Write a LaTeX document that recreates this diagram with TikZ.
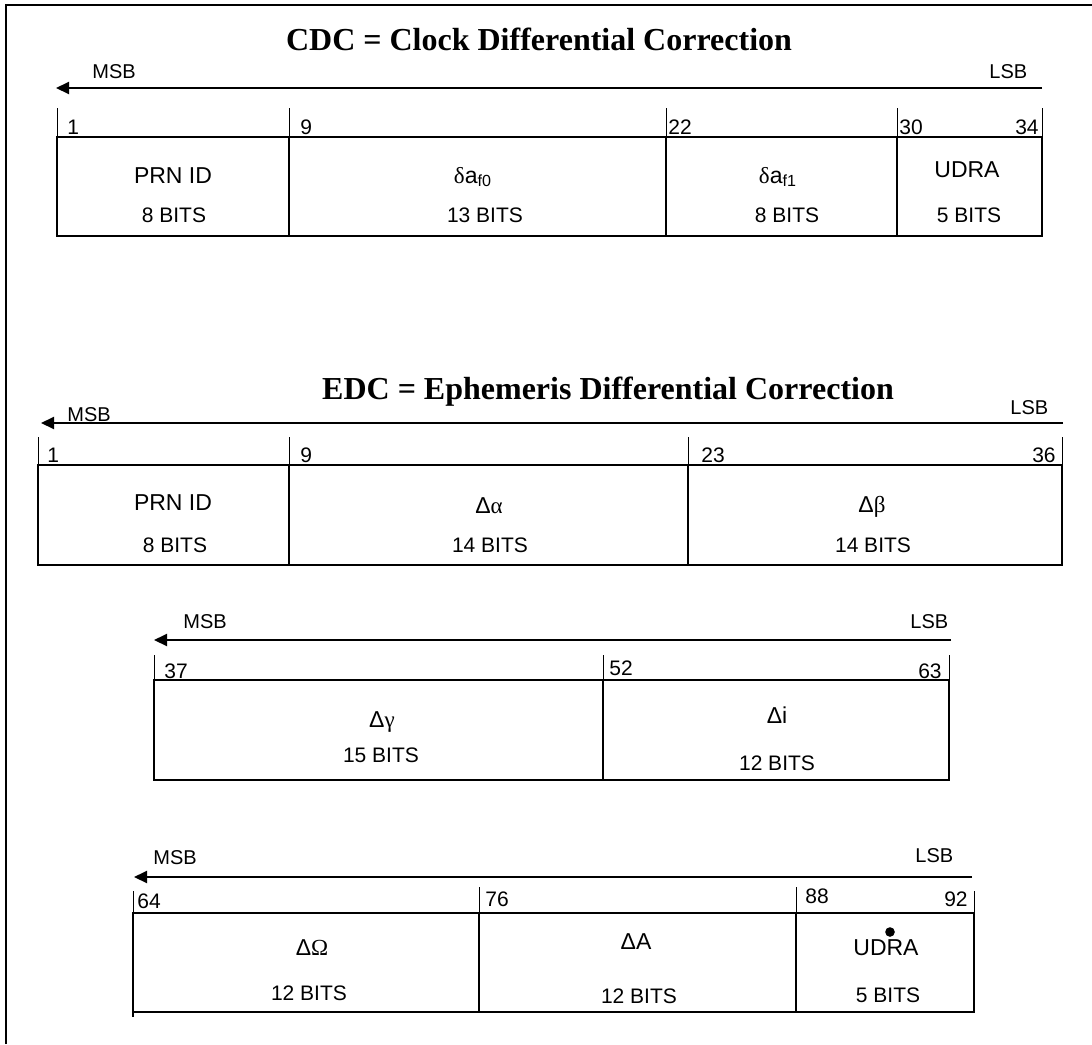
\documentclass[tikz,border=0pt]{standalone}
\usepackage{fontspec}
\setmainfont{Liberation Sans}
\newfontfamily\serifgr{Liberation Serif}
\usetikzlibrary{arrows.meta, positioning}

\newcommand{\gr}[1]{{\serifgr #1}}

\tikzset{
  msbarrow/.style={line width=1pt, -{Triangle[length=6.5pt,width=6pt]}},
  tickline/.style={line width=0.5pt},
  fieldbox/.style={line width=0.8pt},
  heavybox/.style={line width=1.3pt},
  title/.style={font=\serifgr\bfseries\fontsize{16}{18}\selectfont, anchor=base, inner sep=0pt},
  side/.style={font=\fontsize{10}{12}\selectfont, anchor=base west, inner sep=0pt},
  bitno/.style={font=\fontsize{10.5}{12}\selectfont, anchor=base west, inner sep=0pt},
  bitend/.style={bitno, anchor=base east},
  fname/.style={font=\fontsize{11.5}{13}\selectfont, anchor=base, inner sep=0pt},
  nbits/.style={font=\fontsize{10.5}{12}\selectfont, anchor=base, inner sep=0pt},
}

\begin{document}
\begin{tikzpicture}[x=0.5pt, y=-0.5pt]
    \useasboundingbox (0,0) rectangle (1092,1044);
    \draw[line width=0.8pt] (6,1044) -- (6,5) -- (1092,5);

    % CDC word
    \node[title] (cdctitle) at (539,50) {CDC = Clock Differential Correction};
    \node[side] (cdcmsb) at (92,78) {MSB};
    \node[side] (cdclsb) at (989,78) {LSB};
    \coordinate (cdcleft) at (56,88);
    \coordinate (cdcright) at (1042,88);
    \draw[msbarrow] (cdcright) -- (cdcleft);

    \draw[tickline] (57,108) -- (57,137);
    \draw[tickline] (289,108) -- (289,137);
    \draw[tickline] (666,108) -- (666,137);
    \draw[tickline] (897,108) -- (897,137);
    \draw[tickline] (1042,108) -- (1042,137);
    \draw[heavybox] (57,137) rectangle (1042,236);
    \draw[heavybox] (289,137) -- (289,236);
    \draw[heavybox] (666,137) -- (666,236);
    \draw[heavybox] (897,137) -- (897,236);

    \node[bitno] (cdcb1) at (67,134) {1};
    \node[bitno] (cdcb9) at (300,134) {9};
    \node[bitno] (cdcb22) at (668,134) {22};
    \node[bitno] (cdcb30) at (899,134) {30};
    \node[bitend] (cdcb34) at (1039,134) {34};

    \node[fname] (cdcprn) at (173,183) {PRN ID};
    \node[nbits] (cdcprnbits) at (174,222) {8 BITS};
    \node[fname] (cdcaf0) at (473,183) {\gr{δ}a\textsubscript{f0}};
    \node[nbits] (cdcaf0bits) at (485,222) {13 BITS};
    \node[fname] (cdcaf1) at (778,183) {\gr{δ}a\textsubscript{f1}};
    \node[nbits] (cdcaf1bits) at (787,222) {8 BITS};
    \node[fname] (cdcudra) at (967,177) {UDRA};
    \node[nbits] (cdcudrabits) at (969,222) {5 BITS};

    % EDC word, first part
    \node[title] (edctitle) at (608,399) {EDC = Ephemeris Differential Correction};
    \node[side] (edcmsb) at (67,421) {MSB};
    \node[side] (edclsb) at (1010,414) {LSB};
    \coordinate (edcleft) at (41,423);
    \coordinate (edcright) at (1063,423);
    \draw[msbarrow] (edcright) -- (edcleft);

    \draw[tickline] (38,437) -- (38,465);
    \draw[tickline] (289,437) -- (289,465);
    \draw[tickline] (688,437) -- (688,465);
    \draw[tickline] (1062,437) -- (1062,465);
    \draw[fieldbox] (38,465) rectangle (1062,565);
    \draw[fieldbox] (289,465) -- (289,565);
    \draw[fieldbox] (688,465) -- (688,565);

    \node[bitno] (edcb1) at (47,462) {1};
    \node[bitno] (edcb9) at (300,462) {9};
    \node[bitno] (edcb23) at (701,462) {23};
    \node[bitend] (edcb36) at (1056,462) {36};

    \node[fname] (edcprn) at (173,510) {PRN ID};
    \node[nbits] (edcprnbits) at (175,552) {8 BITS};
    \node[fname] (edcalpha) at (489,513) {Δ\gr{α}};
    \node[nbits] (edcalphabits) at (490,552) {14 BITS};
    \node[fname] (edcbeta) at (872,512) {Δ\gr{β}};
    \node[nbits] (edcbetabits) at (873,552) {14 BITS};

    % EDC word, second part
    \node[side] (midmsb) at (183,628) {MSB};
    \node[side] (midlsb) at (910,628) {LSB};
    \coordinate (midleft) at (154,640);
    \coordinate (midright) at (951,640);
    \draw[msbarrow] (midright) -- (midleft);

    \draw[tickline] (154,655) -- (154,680);
    \draw[tickline] (603,655) -- (603,680);
    \draw[tickline] (949,655) -- (949,680);
    \draw[fieldbox] (154,680) rectangle (949,780);
    \draw[fieldbox] (603,680) -- (603,780);

    \node[bitno] (midb37) at (164,678) {37};
    \node[bitno] (midb52) at (609,675) {52};
    \node[bitend] (midb63) at (942,678) {63};

    \node[fname] (midgamma) at (382,727) {Δ\gr{γ}};
    \node[nbits] (midgammabits) at (381,762) {15 BITS};
    \node[fname] (midincl) at (777,723) {Δi};
    \node[nbits] (midinclbits) at (777,770) {12 BITS};

    % EDC word, third part
    \node[side] (lowmsb) at (153,864) {MSB};
    \node[side] (lowlsb) at (915,862) {LSB};
    \coordinate (lowleft) at (134,877);
    \coordinate (lowright) at (972,877);
    \draw[msbarrow] (lowright) -- (lowleft);

    \draw[tickline] (133,891) -- (133,913);
    \draw[tickline] (479,887) -- (479,913);
    \draw[tickline] (796,887) -- (796,913);
    \draw[tickline] (974,891) -- (974,913);
    \draw[fieldbox] (133,913) rectangle (974,1012);
    \draw[line width=1.2pt] (133,913) -- (133,1017);
    \draw[fieldbox] (479,913) -- (479,1012);
    \draw[fieldbox] (796,913) -- (796,1012);

    \node[bitno] (lowb64) at (137,908) {64};
    \node[bitno] (lowb76) at (485,906) {76};
    \node[bitno] (lowb88) at (805,903) {88};
    \node[bitend] (lowb92) at (968,906) {92};

    \node[fname] (lowomega) at (312,955) {Δ\gr{Ω}};
    \node[nbits] (lowomegabits) at (309,1000) {12 BITS};
    \node[fname] (lowsemi) at (636,949) {ΔA};
    \node[nbits] (lowsemibits) at (639,1003) {12 BITS};
    \node[fname] (lowudra) at (886,955) {UDRA};
    \node[circle, fill, inner sep=1.7pt] (udradot) at (890,932) {};
    \node[nbits] (lowudrabits) at (888,1002) {5 BITS};
\end{tikzpicture}
\end{document}
